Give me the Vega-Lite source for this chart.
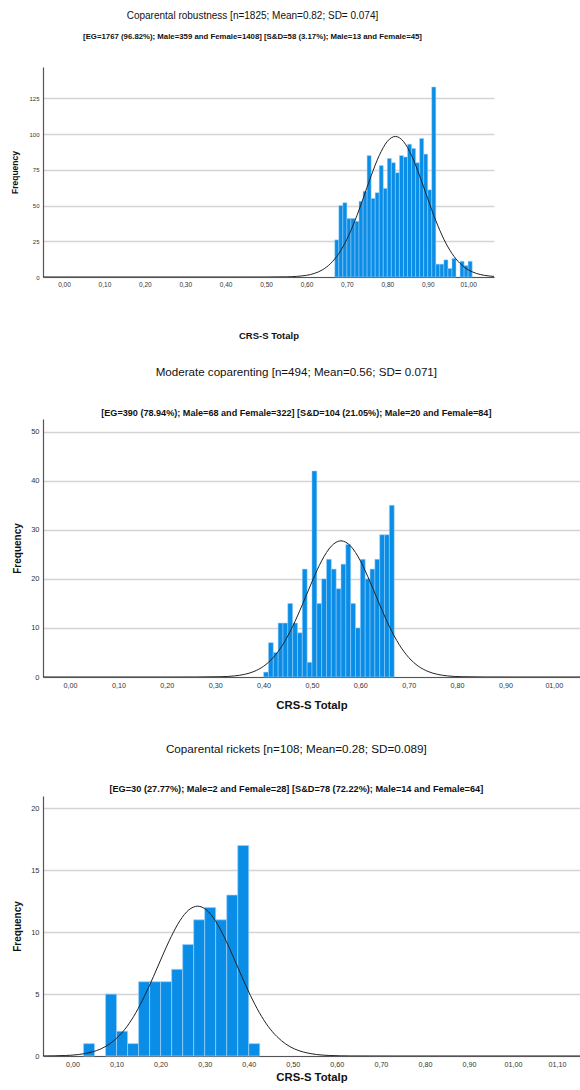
{
  "$schema": "https://vega.github.io/schema/vega-lite/v6.json",
  "padding": {"left": 10, "top": 11, "right": 0, "bottom": 0},
  "spacing": 27,
  "background": "white",
  "config": {"view": {"stroke": null}, "font": "Liberation Sans"},
  "datasets": {
    "bars1": [
      {"x": 0.67, "x2": 0.68, "y": 26}, {"x": 0.68, "x2": 0.69, "y": 50}, {"x": 0.69, "x2": 0.70, "y": 52},
      {"x": 0.70, "x2": 0.71, "y": 41}, {"x": 0.71, "x2": 0.72, "y": 41}, {"x": 0.72, "x2": 0.73, "y": 39},
      {"x": 0.73, "x2": 0.74, "y": 53}, {"x": 0.74, "x2": 0.75, "y": 60}, {"x": 0.75, "x2": 0.76, "y": 85},
      {"x": 0.76, "x2": 0.77, "y": 55}, {"x": 0.77, "x2": 0.78, "y": 59}, {"x": 0.78, "x2": 0.79, "y": 78},
      {"x": 0.79, "x2": 0.80, "y": 62}, {"x": 0.80, "x2": 0.81, "y": 83}, {"x": 0.81, "x2": 0.82, "y": 80},
      {"x": 0.82, "x2": 0.83, "y": 73}, {"x": 0.83, "x2": 0.84, "y": 85}, {"x": 0.84, "x2": 0.85, "y": 84},
      {"x": 0.85, "x2": 0.86, "y": 93}, {"x": 0.86, "x2": 0.87, "y": 90}, {"x": 0.87, "x2": 0.88, "y": 80},
      {"x": 0.88, "x2": 0.89, "y": 97}, {"x": 0.89, "x2": 0.90, "y": 86}, {"x": 0.90, "x2": 0.91, "y": 61},
      {"x": 0.91, "x2": 0.92, "y": 133}, {"x": 0.92, "x2": 0.93, "y": 9}, {"x": 0.93, "x2": 0.94, "y": 9},
      {"x": 0.94, "x2": 0.95, "y": 12}, {"x": 0.95, "x2": 0.96, "y": 6}, {"x": 0.96, "x2": 0.97, "y": 13},
      {"x": 0.98, "x2": 0.99, "y": 11}, {"x": 0.99, "x2": 1.00, "y": 8}, {"x": 1.00, "x2": 1.01, "y": 11}
    ],
    "curve1": [
      {"x": -0.052, "y": 0}, {"x": 0.40, "y": 0}, {"x": 0.50, "y": 0.01}, {"x": 0.55, "y": 0.13},
      {"x": 0.60, "y": 1.18}, {"x": 0.62, "y": 2.55}, {"x": 0.64, "y": 5.11}, {"x": 0.66, "y": 9.51},
      {"x": 0.68, "y": 16.43}, {"x": 0.70, "y": 26.42}, {"x": 0.72, "y": 39.49}, {"x": 0.74, "y": 54.85},
      {"x": 0.76, "y": 70.84}, {"x": 0.78, "y": 85.03}, {"x": 0.80, "y": 94.87}, {"x": 0.82, "y": 98.4},
      {"x": 0.84, "y": 94.87}, {"x": 0.86, "y": 85.03}, {"x": 0.88, "y": 70.84}, {"x": 0.90, "y": 54.85},
      {"x": 0.92, "y": 39.49}, {"x": 0.94, "y": 26.42}, {"x": 0.96, "y": 16.43}, {"x": 0.98, "y": 9.51},
      {"x": 1.00, "y": 5.11}, {"x": 1.02, "y": 2.55}, {"x": 1.04, "y": 1.18}, {"x": 1.064, "y": 0.42}
    ],
    "bars2": [
      {"x": 0.40, "x2": 0.41, "y": 1}, {"x": 0.41, "x2": 0.42, "y": 7}, {"x": 0.42, "x2": 0.43, "y": 5},
      {"x": 0.43, "x2": 0.44, "y": 11}, {"x": 0.44, "x2": 0.45, "y": 11}, {"x": 0.45, "x2": 0.46, "y": 15},
      {"x": 0.46, "x2": 0.47, "y": 11}, {"x": 0.47, "x2": 0.48, "y": 9}, {"x": 0.48, "x2": 0.49, "y": 22},
      {"x": 0.49, "x2": 0.50, "y": 3}, {"x": 0.50, "x2": 0.51, "y": 42}, {"x": 0.51, "x2": 0.52, "y": 15},
      {"x": 0.52, "x2": 0.53, "y": 20}, {"x": 0.53, "x2": 0.54, "y": 24}, {"x": 0.54, "x2": 0.55, "y": 22},
      {"x": 0.55, "x2": 0.56, "y": 18}, {"x": 0.56, "x2": 0.57, "y": 23}, {"x": 0.57, "x2": 0.58, "y": 27},
      {"x": 0.58, "x2": 0.59, "y": 15}, {"x": 0.59, "x2": 0.60, "y": 10}, {"x": 0.60, "x2": 0.61, "y": 24},
      {"x": 0.61, "x2": 0.62, "y": 20}, {"x": 0.62, "x2": 0.63, "y": 22}, {"x": 0.63, "x2": 0.64, "y": 24},
      {"x": 0.64, "x2": 0.65, "y": 29}, {"x": 0.65, "x2": 0.66, "y": 29}, {"x": 0.66, "x2": 0.67, "y": 35}
    ],
    "curve2": [
      {"x": -0.056, "y": 0}, {"x": 0.20, "y": 0}, {"x": 0.26, "y": 0.004}, {"x": 0.31, "y": 0.056},
      {"x": 0.34, "y": 0.228}, {"x": 0.36, "y": 0.525}, {"x": 0.38, "y": 1.12}, {"x": 0.40, "y": 2.19},
      {"x": 0.42, "y": 3.97}, {"x": 0.44, "y": 6.65}, {"x": 0.46, "y": 10.30}, {"x": 0.48, "y": 14.72},
      {"x": 0.50, "y": 19.42}, {"x": 0.52, "y": 23.69}, {"x": 0.54, "y": 26.68}, {"x": 0.56, "y": 27.76},
      {"x": 0.58, "y": 26.68}, {"x": 0.60, "y": 23.69}, {"x": 0.62, "y": 19.42}, {"x": 0.64, "y": 14.72},
      {"x": 0.66, "y": 10.30}, {"x": 0.68, "y": 6.65}, {"x": 0.70, "y": 3.97}, {"x": 0.72, "y": 2.19},
      {"x": 0.74, "y": 1.12}, {"x": 0.76, "y": 0.525}, {"x": 0.78, "y": 0.228}, {"x": 0.81, "y": 0.056},
      {"x": 0.86, "y": 0.004}, {"x": 0.92, "y": 0}, {"x": 1.054, "y": 0}
    ],
    "bars3": [
      {"x": 0.025, "x2": 0.05, "y": 1}, {"x": 0.075, "x2": 0.1, "y": 5}, {"x": 0.1, "x2": 0.125, "y": 2},
      {"x": 0.125, "x2": 0.15, "y": 1}, {"x": 0.15, "x2": 0.175, "y": 6}, {"x": 0.175, "x2": 0.2, "y": 6},
      {"x": 0.2, "x2": 0.225, "y": 6}, {"x": 0.225, "x2": 0.25, "y": 7}, {"x": 0.25, "x2": 0.275, "y": 9},
      {"x": 0.275, "x2": 0.3, "y": 11}, {"x": 0.3, "x2": 0.325, "y": 12}, {"x": 0.325, "x2": 0.35, "y": 11},
      {"x": 0.35, "x2": 0.375, "y": 13}, {"x": 0.375, "x2": 0.4, "y": 17}, {"x": 0.4, "x2": 0.425, "y": 1}
    ],
    "curve3": [
      {"x": -0.067, "y": 0.005}, {"x": -0.016, "y": 0.041}, {"x": 0.014, "y": 0.121}, {"x": 0.044, "y": 0.32},
      {"x": 0.064, "y": 0.57}, {"x": 0.084, "y": 0.97}, {"x": 0.104, "y": 1.57}, {"x": 0.124, "y": 2.40},
      {"x": 0.144, "y": 3.51}, {"x": 0.164, "y": 4.88}, {"x": 0.184, "y": 6.44}, {"x": 0.204, "y": 8.08},
      {"x": 0.224, "y": 9.64}, {"x": 0.244, "y": 10.94}, {"x": 0.264, "y": 11.80}, {"x": 0.284, "y": 12.1},
      {"x": 0.304, "y": 11.80}, {"x": 0.324, "y": 10.94}, {"x": 0.344, "y": 9.64}, {"x": 0.364, "y": 8.08},
      {"x": 0.384, "y": 6.44}, {"x": 0.404, "y": 4.88}, {"x": 0.424, "y": 3.51}, {"x": 0.444, "y": 2.40},
      {"x": 0.464, "y": 1.57}, {"x": 0.484, "y": 0.97}, {"x": 0.504, "y": 0.57}, {"x": 0.524, "y": 0.32},
      {"x": 0.554, "y": 0.121}, {"x": 0.584, "y": 0.041}, {"x": 0.634, "y": 0.005}, {"x": 0.734, "y": 0},
      {"x": 1.152, "y": 0}
    ]
  },
  "vconcat": [
    {
      "width": 451,
      "height": 210,
      "title": {
        "text": "Coparental robustness  [n=1825; Mean=0.82; SD= 0.074]",
        "subtitle": "[EG=1767 (96.82%); Male=359 and Female=1408] [S&D=58 (3.17%); Male=13 and Female=45]",
        "anchor": "middle", "frame": "bounds",
        "fontSize": 10, "fontWeight": "normal", "color": "#111",
        "subtitleFontSize": 7.8, "subtitleFontWeight": "bold", "subtitleColor": "#111",
        "subtitlePadding": 12, "offset": 26
      },
      "encoding": {
        "x": {
          "field": "x", "type": "quantitative",
          "scale": {"domain": [-0.052, 1.064], "nice": false, "zero": false},
          "axis": {
            "values": [0, 0.1, 0.2, 0.3, 0.4, 0.5, 0.6, 0.7, 0.8, 0.9, 1.0],
            "labelExpr": "(datum.value >= 0.995 ? '0' : '') + replace(format(datum.value, '.2f'), '.', ',')",
            "ticks": false, "grid": false, "domainColor": "#555", "domainWidth": 1.2,
            "labelFontSize": 6.5, "labelColor": "#333", "labelPadding": 4,
            "title": "CRS-S Totalp", "titleFontSize": 9.5, "titleFontWeight": "bold", "titleColor": "#111", "titlePadding": 43
          }
        },
        "y": {
          "field": "y", "type": "quantitative",
          "scale": {"domain": [0, 147], "nice": false},
          "axis": {
            "values": [0, 25, 50, 75, 100, 125],
            "ticks": false, "grid": true, "gridColor": "#d4d4d4", "gridWidth": 1.3,
            "domainColor": "#555", "domainWidth": 1.2,
            "labelFontSize": 6, "labelColor": "#333", "labelPadding": 4,
            "title": "Frequency", "titleFontSize": 8.5, "titleFontWeight": "bold", "titleColor": "#111", "titlePadding": 9
          }
        }
      },
      "layer": [
        {
          "data": {"name": "bars1"},
          "mark": {"type": "bar", "fill": "#0a8de6", "stroke": "#9fd2fa", "strokeWidth": 0.5},
          "encoding": {"x2": {"field": "x2"}, "y2": {"datum": 0}}
        },
        {
          "data": {"name": "curve1"},
          "mark": {"type": "line", "color": "#222", "strokeWidth": 1, "interpolate": "monotone", "clip": true},
          "encoding": {}
        }
      ]
    },
    {
      "width": 537,
      "height": 258,
      "title": {
        "text": "Moderate coparenting [n=494; Mean=0.56; SD= 0.071]",
        "subtitle": "[EG=390 (78.94%); Male=68 and Female=322] [S&D=104 (21.05%); Male=20 and Female=84]",
        "anchor": "middle", "frame": "bounds",
        "fontSize": 11.6, "fontWeight": "normal", "color": "#111",
        "subtitleFontSize": 9.1, "subtitleFontWeight": "bold", "subtitleColor": "#111",
        "subtitlePadding": 30, "offset": 1
      },
      "encoding": {
        "x": {
          "field": "x", "type": "quantitative",
          "scale": {"domain": [-0.056, 1.054], "nice": false, "zero": false},
          "axis": {
            "values": [0, 0.1, 0.2, 0.3, 0.4, 0.5, 0.6, 0.7, 0.8, 0.9, 1.0],
            "labelExpr": "(datum.value >= 0.995 ? '0' : '') + replace(format(datum.value, '.2f'), '.', ',')",
            "ticks": false, "grid": false, "domainColor": "#555", "domainWidth": 1.2,
            "labelFontSize": 7.2, "labelColor": "#333", "labelPadding": 4,
            "title": ["CRS-S Totalp", " "], "titleLineHeight": 6,
            "titleFontSize": 11.3, "titleFontWeight": "bold", "titleColor": "#111", "titlePadding": 11
          }
        },
        "y": {
          "field": "y", "type": "quantitative",
          "scale": {"domain": [0, 52.6], "nice": false},
          "axis": {
            "values": [0, 10, 20, 30, 40, 50],
            "ticks": false, "grid": true, "gridColor": "#d4d4d4", "gridWidth": 1.3,
            "domainColor": "#555", "domainWidth": 1.2,
            "labelFontSize": 7.5, "labelColor": "#333", "labelPadding": 4,
            "title": "Frequency", "titleFontSize": 10, "titleFontWeight": "bold", "titleColor": "#111", "titlePadding": 8
          }
        }
      },
      "layer": [
        {
          "data": {"name": "bars2"},
          "mark": {"type": "bar", "fill": "#0a8de6", "stroke": "#9fd2fa", "strokeWidth": 0.5},
          "encoding": {"x2": {"field": "x2"}, "y2": {"datum": 0}}
        },
        {
          "data": {"name": "curve2"},
          "mark": {"type": "line", "color": "#222", "strokeWidth": 1, "interpolate": "monotone", "clip": true},
          "encoding": {}
        }
      ]
    },
    {
      "width": 537,
      "height": 260,
      "title": {
        "text": "Coparental rickets [n=108; Mean=0.28; SD=0.089]",
        "subtitle": "[EG=30 (27.77%); Male=2 and Female=28] [S&D=78 (72.22%); Male=14 and Female=64]",
        "anchor": "middle", "frame": "bounds",
        "fontSize": 11.7, "fontWeight": "normal", "color": "#111",
        "subtitleFontSize": 9.2, "subtitleFontWeight": "bold", "subtitleColor": "#111",
        "subtitlePadding": 29, "offset": 2
      },
      "encoding": {
        "x": {
          "field": "x", "type": "quantitative",
          "scale": {"domain": [-0.067, 1.152], "nice": false, "zero": false},
          "axis": {
            "values": [0, 0.1, 0.2, 0.3, 0.4, 0.5, 0.6, 0.7, 0.8, 0.9, 1.0, 1.1],
            "labelExpr": "(datum.value >= 0.995 ? '0' : '') + replace(format(datum.value, '.2f'), '.', ',')",
            "ticks": false, "grid": false, "domainColor": "#555", "domainWidth": 1.2,
            "labelFontSize": 7.2, "labelColor": "#333", "labelPadding": 4,
            "title": "CRS-S Totalp", "titleFontSize": 11.3, "titleFontWeight": "bold", "titleColor": "#111", "titlePadding": 4
          }
        },
        "y": {
          "field": "y", "type": "quantitative",
          "scale": {"domain": [0, 21], "nice": false},
          "axis": {
            "values": [0, 5, 10, 15, 20],
            "ticks": false, "grid": true, "gridColor": "#d4d4d4", "gridWidth": 1.3,
            "domainColor": "#555", "domainWidth": 1.2,
            "labelFontSize": 7.5, "labelColor": "#333", "labelPadding": 4,
            "title": "Frequency", "titleFontSize": 10, "titleFontWeight": "bold", "titleColor": "#111", "titlePadding": 8
          }
        }
      },
      "layer": [
        {
          "data": {"name": "bars3"},
          "mark": {"type": "bar", "fill": "#0a8de6", "stroke": "#9fd2fa", "strokeWidth": 0.7},
          "encoding": {"x2": {"field": "x2"}, "y2": {"datum": 0}}
        },
        {
          "data": {"name": "curve3"},
          "mark": {"type": "line", "color": "#222", "strokeWidth": 1, "interpolate": "monotone", "clip": true},
          "encoding": {}
        }
      ]
    }
  ]
}
